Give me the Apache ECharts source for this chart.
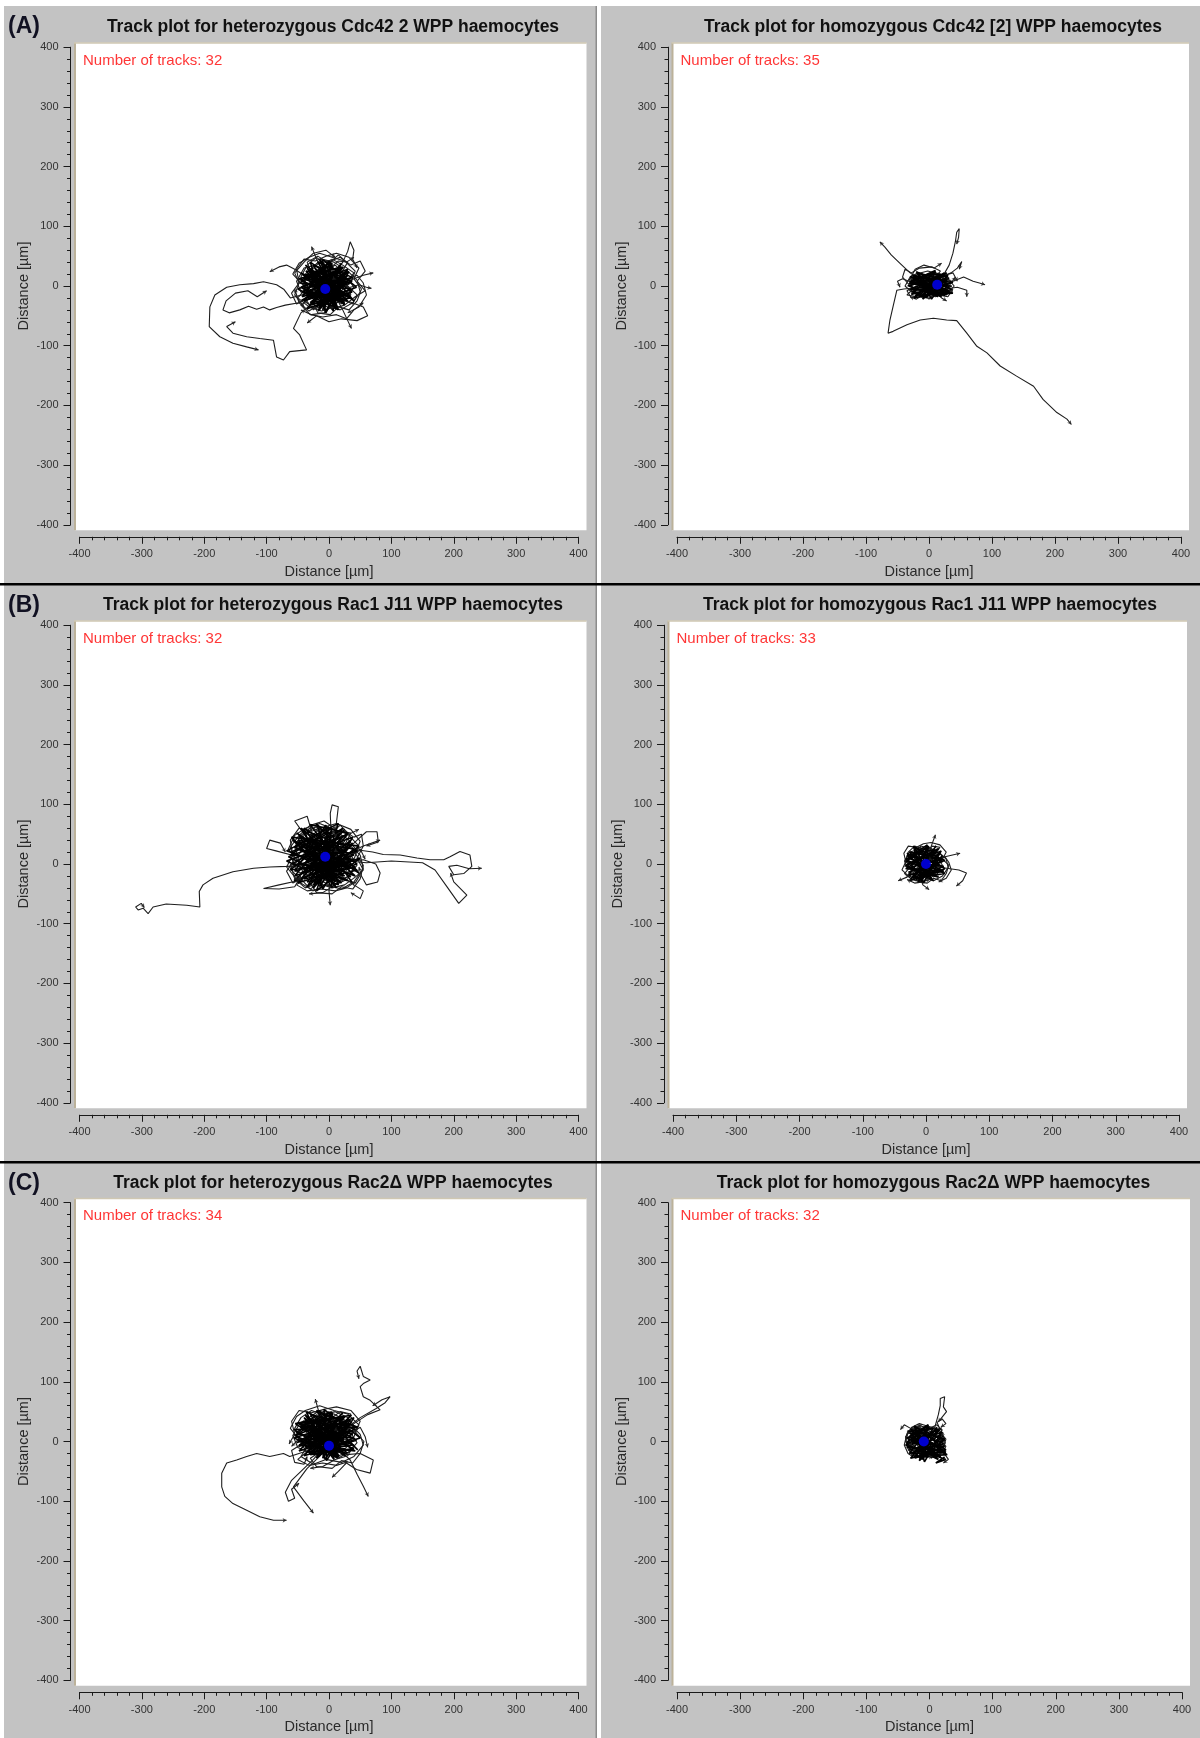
<!DOCTYPE html>
<html><head><meta charset="utf-8">
<script src="https://cdn.jsdelivr.net/npm/echarts@6/dist/echarts.min.js"></script>
<style>html,body{margin:0;padding:0;background:#fff}#c{width:1200px;height:1738px}</style>
</head><body><div id="c"></div>
<script>
// ---------------- DATA ----------------
const rowLetters = ['(A)', '(B)', '(C)'];
const panelTitles = [
  'Track plot for heterozygous Cdc42 2 WPP haemocytes',
  'Track plot for homozygous Cdc42 [2] WPP haemocytes',
  'Track plot for heterozygous Rac1 J11 WPP haemocytes',
  'Track plot for homozygous Rac1 J11 WPP haemocytes',
  'Track plot for heterozygous Rac2\u0394 WPP haemocytes',
  'Track plot for homozygous Rac2\u0394 WPP haemocytes'
];
const trackCounts = [32, 35, 32, 33, 34, 32];
const axisMin = -400, axisMax = 400, axisStep = 100;
const axisTitle = 'Distance [\u00b5m]';
const centres = [[-6, -5], [13, 2], [-6, 12], [0, 0], [0, -7], [-9, 0]];

// A: heterozygous Cdc42 2
const tracksA1 = [
  [[0,0],[-18,-6],[-40,-14],[-62,-20],[-72,-6],[-84,2],[-105,7],[-121,4],[-143,2],[-164,-2],[-183,-15],[-191,-35],[-192,-68],[-175,-85],[-154,-96],[-132,-102],[-113,-107]],
  [[0,0],[-20,-15],[-48,-28],[-70,-32],[-84,-36],[-95,-40],[-105,-35],[-116,-39],[-129,-34],[-143,-40],[-160,-45],[-170,-40],[-165,-25],[-150,-12],[-130,-8],[-115,-18],[-100,-8]],
  [[0,0],[-22,-25],[-45,-45],[-57,-71],[-47,-82],[-36,-107],[-63,-110],[-73,-124],[-84,-119],[-89,-91],[-111,-88],[-132,-85],[-154,-79],[-164,-68],[-150,-60]],
  [[0,0],[-20,10],[-40,18],[-55,28],[-68,35],[-80,32],[-95,24]],
  [[0,0],[10,20],[22,40],[30,58],[34,74],[40,60],[38,45],[45,30]],
  [[0,0],[20,5],[40,12],[55,18],[71,22]],
  [[0,0],[25,-5],[48,2],[60,-2],[68,-4]],
  [[0,0],[12,-20],[22,-40],[30,-58],[36,-71]],
  [[0,0],[-10,25],[-20,45],[-28,66]],
  [[0,0],[30,-25],[55,-35],[62,-50],[45,-58],[20,-55],[0,-60],[-20,-50],[-35,-62]],
  [[0,0],[12,8],[5,22],[-10,30],[-25,18],[-18,2],[-30,-12],[-15,-25],[4,-18],[20,-30],[35,-15],[28,5],[40,22],[22,35],[5,45],[-8,38],[-20,48],[-35,35],[-45,15],[-38,-5],[-50,-20],[-32,-35],[-12,-42],[8,-35]],
  [[0,0],[-8,-12],[10,-20],[25,-8],[15,12],[30,25],[45,10],[50,-10],[38,-28],[18,-40],[-5,-30],[-22,-38],[-40,-25],[-28,-8],[-42,8],[-30,25],[-15,40],[2,30],[15,42],[30,40],[20,22],[5,10]],
  [[0,0],[18,-6],[8,-22],[-12,-15],[-25,-28],[-18,-45],[2,-48],[15,-35],[32,-40],[45,-25],[52,-5],[40,12],[48,30],[32,48],[12,55],[-5,50],[-22,42],[-40,45],[-52,28],[-48,5],[-55,-15],[-40,-35]],
  [[0,0],[-15,8],[-8,25],[10,18],[22,30],[8,40],[-12,45],[-28,30],[-38,20],[-25,5],[-35,-8],[-20,-18],[-5,-10],[12,-25],[28,-18],[40,-2],[30,12],[45,18],[55,5],[60,-15],[48,-35],[30,-45]],
  [[0,0],[5,15],[-12,20],[-20,8],[-10,-8],[-28,-18],[-45,-10],[-52,8],[-40,30],[-22,35],[-5,25],[10,35],[25,20],[18,5],[35,-5],[25,-22],[8,-30],[-8,-45],[-28,-48],[-45,-40]],
  [[0,0],[-20,-5],[-12,15],[8,12],[18,-5],[35,5],[42,25],[25,42],[5,48],[-15,55],[-32,48],[-48,38],[-58,20],[-42,2],[-30,-20],[-45,-32],[-30,-48],[-10,-52],[12,-48],[28,-55],[40,-40],[55,-28]],
  [[0,0],[10,-12],[-5,-22],[-18,-10],[-32,2],[-22,18],[-5,12],[8,28],[-2,40],[18,48],[35,35],[50,42],[58,25],[45,8],[58,-8],[42,-18],[25,-32],[5,-38],[-15,-30],[-32,-42],[-48,-28],[-55,-5]],
  [[0,0],[-6,18],[12,25],[28,12],[20,-10],[2,-15],[-15,-28],[-30,-15],[-40,5],[-28,22],[-35,40],[-18,50],[0,38],[15,52],[28,40],[40,48]],
  [[0,0],[15,10],[30,0],[45,-15],[38,-30],[20,-22],[5,-35],[-10,-25],[-25,-40],[-38,-22],[-52,-30],[-60,-12],[-48,5],[-55,22],[-40,40],[-25,55],[-5,60],[10,48]]
];
const denseA1 = [
  [[0,0],[30,12],[-35,-8],[23,-22],[-40,18],[15,30],[-20,-35],[35,-5],[-47,5],[5,38],[-10,-40],[27,25],[-30,-28],[33,-15],[-45,22],[10,-30],[-25,35],[37,8],[-43,-18],[0,42],[7,-42],[-35,30],[25,-32]],
  [[0,0],[-30,20],[25,-15],[-43,-10],[17,28],[-15,-38],[31,10],[-37,25],[13,-35],[-45,-2],[23,32],[-27,-30],[35,-20],[-40,12],[3,40],[-17,-42],[30,18],[-33,-22],[20,-8],[-23,30]],
  [[0,0],[10,-30],[-25,25],[33,5],[-40,-25],[5,35],[-45,10],[25,-28],[-20,-15],[20,38],[-35,-38],[37,-10],[-30,40],[-5,-45],[30,28],[-50,-5],[15,-40],[-15,45],[40,-25],[-38,35]],
  [[0,0],[-20,10],[12,-14],[-25,-6],[14,16],[-10,-22],[22,4],[-28,14],[6,-24],[-18,20],[18,-10],[-26,-14],[10,22],[-4,-26],[24,12],[-22,-18],[16,-20],[-12,24]],
  [[0,0],[22,18],[-38,-12],[30,-25],[-30,28],[12,-38],[-42,-4],[38,14],[-18,40],[25,-30],[-48,12],[20,32],[-28,-32],[44,-2],[-10,44],[-6,-44],[32,24],[-44,-24],[28,8]]
];

// A: homozygous Cdc42 [2]
const tracksA2 = [
  [[0,0],[-20,-3],[-40,-5],[-51,-7],[-57,-34],[-62,-57],[-65,-79],[-57,-76],[-35,-65],[-14,-57],[7,-54],[28,-57],[44,-58],[60,-79],[76,-101],[92,-112],[113,-134],[139,-151],[166,-168],[181,-190],[203,-212],[219,-223],[226,-232]],
  [[0,0],[-15,12],[-30,22],[-46,38],[-60,52],[-70,65],[-78,74]],
  [[0,0],[15,10],[25,22],[32,35],[38,55],[42,75],[44,90],[48,96],[47,82],[44,70]],
  [[0,0],[20,-2],[38,8],[55,15],[70,8],[80,5],[89,2]],
  [[0,0],[20,15],[35,22],[45,30],[52,41],[48,28]],
  [[0,0],[25,-5],[45,-2],[60,-7],[60,-18]],
  [[0,0],[10,-10],[20,-20],[28,-25]],
  [[0,0],[-10,-15],[-20,-22],[-30,-18]],
  [[0,0],[-25,5],[-42,12],[-50,8],[-46,-2]],
  [[0,0],[10,8],[-5,15],[-18,6],[-10,-8],[5,-12],[20,-5],[28,10],[15,20],[-2,25],[-20,20],[-32,10],[-25,-5],[-35,-15],[-18,-18],[0,-20],[15,-15],[30,-18],[38,-5]],
  [[0,0],[-12,-5],[-22,8],[-10,18],[8,12],[18,25],[5,32],[-15,30],[-28,22],[-38,28],[-42,15],[-30,0],[-20,-12],[-5,-8],[10,-18],[25,-10],[35,5],[42,15]],
  [[0,0],[8,-10],[22,-15],[32,-2],[20,8],[8,2],[-5,8],[-15,-5],[-28,-10],[-38,0],[-30,15],[-18,22],[-5,18],[10,22],[25,18],[38,22],[45,8]],
  [[0,0],[-8,10],[5,20],[20,15],[30,2],[18,-12],[2,-15],[-12,-18],[-25,-8],[-15,5],[-30,12],[-22,28],[-8,35],[8,30],[20,38]],
  [[0,0],[15,3],[10,15],[-5,10],[-12,22],[-25,15],[-20,0],[-35,-8],[-28,-20],[-12,-12],[0,-22],[12,-8],[28,-15],[40,0],[30,12]]
];
const denseA2 = [
  [[0,0],[30,8],[-25,-5],[28,-14],[-28,14],[18,20],[-12,-18],[36,0],[-32,4],[10,24],[-5,-20],[30,16],[-22,-16],[34,-10],[-30,16],[14,-18],[-18,22],[38,6],[-28,-10]],
  [[0,0],[-24,12],[32,-8],[-30,-6],[22,18],[-8,-20],[35,6],[-26,18],[20,-18],[-32,0],[28,22],[-16,-16],[38,-12],[-28,8],[10,26],[-10,-22],[32,14]],
  [[0,0],[15,-16],[-18,16],[30,4],[-28,-14],[10,24],[-30,8],[26,-16],[-14,-8],[24,22],[-24,-20],[36,-6],[-20,24],[4,-22],[30,18],[-34,0]]
];

// B: heterozygous Rac1 J11
const tracksB1 = [
  [[0,0],[-20,-2],[-45,-3],[-68,-4],[-95,-5],[-121,-7],[-154,-13],[-186,-24],[-202,-35],[-208,-46],[-207,-72],[-228,-69],[-261,-67],[-282,-72],[-290,-83],[-298,-74],[-306,-77],[-310,-72],[-301,-66],[-296,-73]],
  [[0,0],[25,10],[50,23],[70,20],[87,16],[114,15],[141,10],[162,7],[184,7],[194,12],[210,21],[226,15],[229,-4],[216,-16],[200,-18],[192,-4],[205,-2],[225,-8],[245,-7]],
  [[0,0],[30,5],[60,2],[100,5],[150,2],[170,-10],[189,-38],[208,-66],[221,-52],[200,-30],[195,-15]],
  [[0,0],[2,30],[3,60],[2,85],[5,99],[15,96],[12,70],[10,45]],
  [[0,0],[-20,25],[-40,50],[-55,72],[-35,80],[-28,55]],
  [[0,0],[-30,10],[-60,15],[-85,22],[-100,26],[-95,40],[-78,35],[-70,20]],
  [[0,0],[-25,-15],[-50,-28],[-80,-35],[-105,-41],[-80,-42],[-55,-38],[-45,-20]],
  [[0,0],[25,20],[45,40],[60,54],[77,54],[79,37],[60,30]],
  [[0,0],[30,5],[55,7],[75,0],[82,-15],[78,-30],[60,-35],[52,-20],[48,-5]],
  [[0,0],[2,-25],[0,-45],[2,-69]],
  [[0,0],[20,-20],[40,-35],[55,-45],[50,-58],[35,-48]],
  [[0,0],[30,18],[55,30],[82,40]],
  [[0,0],[15,12],[5,30],[-15,38],[-30,22],[-20,5],[-38,-8],[-25,-25],[-5,-20],[15,-32],[35,-18],[28,5],[45,22],[30,42],[10,55],[-10,50],[-28,62],[-45,48],[-55,28],[-48,8],[-62,-8],[-45,-28]],
  [[0,0],[-10,-15],[10,-25],[28,-12],[18,15],[35,30],[50,15],[55,-8],[40,-30],[20,-42],[-5,-35],[-25,-45],[-48,-30],[-35,-10],[-52,10],[-38,32],[-20,50],[0,40],[18,55],[35,52],[25,32],[8,20]],
  [[0,0],[20,-8],[8,-28],[-15,-20],[-30,-32],[-20,-48],[5,-50],[20,-38],[38,-42],[50,-25],[55,-2],[42,18],[50,38],[35,58],[12,68],[-8,62],[-28,55],[-48,60],[-62,40],[-58,15],[-68,-5],[-50,-28]],
  [[0,0],[-18,10],[-10,30],[12,22],[25,38],[8,50],[-15,58],[-35,42],[-45,28],[-30,8],[-42,-5],[-25,-18],[-5,-10],[15,-28],[32,-20],[45,-2],[35,15],[50,25],[58,8]],
  [[0,0],[6,18],[-15,25],[-25,10],[-12,-10],[-32,-20],[-52,-12],[-60,10],[-48,35],[-28,42],[-5,32],[12,45],[30,28],[22,8],[40,-5],[30,-25],[10,-35],[-10,-48],[-32,-50]],
  [[0,0],[-25,-5],[-15,18],[10,15],[22,-5],[40,8],[48,30],[30,50],[8,58],[-15,68],[-38,60],[-55,48],[-65,25],[-50,5],[-38,-22],[-52,-35],[-35,-45],[-12,-42],[10,-45],[28,-40],[42,-30]],
  [[0,0],[12,-15],[-5,-28],[-22,-12],[-38,2],[-28,22],[-8,15],[10,32],[-2,48],[20,58],[40,45],[52,50],[55,30],[45,10],[55,-10],[42,-22],[25,-35],[5,-40],[-18,-32],[-38,-40],[-55,-25],[-62,0]],
  [[0,0],[-8,22],[15,30],[32,15],[22,-12],[2,-18],[-18,-32],[-35,-18],[-48,5],[-35,25],[-42,48],[-22,62],[0,48],[18,65],[32,50],[48,58]],
  [[0,0],[18,12],[35,0],[50,-18],[42,-32],[22,-25],[5,-38],[-12,-28],[-30,-42],[-45,-25],[-58,-32],[-68,-12],[-55,8],[-62,28],[-48,48],[-30,65],[-8,72],[12,58]]
];
const denseB1 = [
  [[0,0],[30,25],[-45,0],[25,-20],[-50,35],[15,50],[-30,-30],[40,8],[-62,15],[5,60],[-15,-38],[35,40],[-40,-25],[42,-5],[-58,40],[10,-30],[-35,55],[45,22],[-55,-12],[-5,65],[5,-40],[-48,48],[35,-22]],
  [[0,0],[-40,35],[35,-5],[-60,0],[20,45],[-25,-35],[40,25],[-50,40],[20,-32],[-65,12],[30,50],[-35,-30],[45,-10],[-55,28],[0,62],[-25,-40],[38,35],[-45,-15],[25,5],[-30,50]],
  [[0,0],[10,-30],[-35,42],[40,15],[-55,-20],[5,55],[-60,20],[30,-28],[-30,-8],[25,58],[-50,-32],[45,0],[-40,60],[-10,-42],[38,45],[-68,5],[15,-35],[-20,68],[48,-15],[-52,52]],
  [[0,0],[-28,22],[14,-6],[-35,2],[16,30],[-15,-18],[24,16],[-38,28],[6,-16],[-24,38],[20,0],[-36,-8],[10,38],[-6,-22],[28,26],[-30,-10],[18,-12],[-14,42]],
  [[0,0],[-50,25],[40,5],[-62,-10],[22,60],[-35,-38],[48,30],[-60,45],[12,-40],[-45,60],[42,-20],[-68,22],[15,68],[-20,-45],[50,10],[-56,-28],[30,52],[-30,66],[38,-32]]
];

// B: homozygous Rac1 J11
const tracksB2 = [
  [[0,0],[15,8],[30,12],[42,15],[54,18]],
  [[0,0],[20,-5],[38,-8],[52,-10],[64,-15],[58,-28],[48,-37]],
  [[0,0],[-15,-10],[-30,-22],[-44,-28]],
  [[0,0],[5,20],[10,35],[15,49]],
  [[0,0],[-10,-20],[-5,-35],[5,-43]],
  [[0,0],[8,6],[2,15],[-8,18],[-15,8],[-10,-4],[-20,-10],[-12,-20],[2,-15],[12,-22],[22,-12],[18,4],[28,12],[15,22],[5,28],[-6,25],[-18,30],[-28,20],[-32,6],[-26,-6],[-34,-16],[-22,-26],[-8,-30],[6,-26]],
  [[0,0],[-6,-8],[8,-14],[18,-5],[10,8],[22,18],[32,8],[35,-6],[26,-20],[12,-28],[-4,-22],[-16,-28],[-28,-18],[-20,-5],[-30,6],[-20,18],[-10,28],[2,22],[10,30],[22,28],[14,15],[4,6]],
  [[0,0],[12,-4],[5,-15],[-8,-10],[-18,-20],[-12,-30],[2,-32],[12,-24],[24,-28],[32,-16],[36,-2],[26,8],[32,20],[22,32],[8,36],[-4,34],[-15,28],[-28,30],[-35,18],[-32,4],[-38,-10],[-26,-22]],
  [[0,0],[-10,5],[-5,16],[6,12],[14,20],[5,26],[-8,30],[-18,20],[-25,12],[-16,3],[-24,-5],[-14,-12],[-3,-6],[8,-16],[18,-12],[26,-2],[20,8],[30,12],[36,3],[40,-10],[32,-24],[20,-30]],
  [[0,0],[4,10],[-8,13],[-13,5],[-6,-5],[-18,-12],[-30,-6],[-34,5],[-26,20],[-15,23],[-3,16],[6,23],[16,13],[12,3],[23,-3],[16,-15],[5,-20],[-5,-30],[-18,-32],[-30,-26]]
];
const denseB2 = [
  [[0,0],[24,8],[-26,-6],[20,-18],[-30,14],[12,24],[-16,-26],[28,-4],[-32,4],[4,30],[-8,-30],[22,20],[-22,-22],[28,-12],[-30,18],[8,-24],[-18,28],[30,6],[-28,-14]],
  [[0,0],[-22,16],[22,-12],[-32,-8],[14,24],[-10,-28],[26,8],[-26,20],[12,-28],[-32,-2],[20,26],[-20,-24],[30,-16],[-28,10],[2,32],[-12,-30],[26,14]],
  [[0,0],[8,-24],[-18,20],[26,4],[-28,-20],[4,28],[-32,8],[20,-22],[-14,-12],[16,30],[-26,-28],[30,-8],[-20,30],[-4,-32],[24,22],[-34,-4]]
];

// C: heterozygous Rac2 delta
const tracksC1 = [
  [[0,0],[-20,-10],[-42,-18],[-63,-25],[-73,-20],[-95,-25],[-116,-20],[-132,-25],[-148,-31],[-164,-36],[-172,-53],[-172,-76],[-167,-92],[-154,-104],[-132,-115],[-111,-126],[-89,-132],[-68,-132]],
  [[0,0],[20,15],[40,30],[62,45],[82,53],[66,69],[55,75],[50,92],[55,97],[66,103],[55,109],[50,126],[45,118],[48,105]],
  [[0,0],[25,20],[50,40],[75,55],[90,65],[98,75],[85,70],[70,60]],
  [[0,0],[15,-12],[34,-31],[45,-55],[55,-75],[63,-92]],
  [[0,0],[-8,20],[-15,45],[-22,71]],
  [[0,0],[-15,-25],[-35,-45],[-57,-76],[-40,-100],[-25,-120]],
  [[0,0],[-25,-30],[-45,-50],[-60,-65],[-70,-85],[-65,-100],[-55,-95],[-60,-80],[-48,-70]],
  [[0,0],[28,-22],[50,-20],[71,-31],[66,-53],[44,-47],[28,-36],[15,-50],[5,-60]],
  [[0,0],[-25,5],[-45,-5],[-60,-15],[-55,-35],[-40,-38],[-35,-25]],
  [[0,0],[15,12],[5,30],[-15,38],[-30,22],[-20,5],[-38,-8],[-25,-22],[-5,-18],[15,-28],[35,-15],[28,5],[45,20],[30,40],[10,50],[-10,45],[-28,52],[-45,40],[-55,22],[-48,5],[-60,-8]],
  [[0,0],[-10,-15],[10,-22],[28,-10],[18,15],[35,28],[50,12],[55,-6],[40,-25],[20,-35],[-5,-30],[-25,-38],[-45,-25],[-35,-8],[-52,10],[-38,30],[-20,45],[0,36],[18,50],[35,46],[25,28],[8,18]],
  [[0,0],[20,-8],[8,-25],[-15,-18],[-30,-28],[-20,-42],[5,-45],[20,-32],[38,-36],[50,-20],[56,0],[42,16],[50,34],[35,52],[12,58],[-8,54],[-28,48],[-48,52],[-60,34],[-55,12],[-64,-4]],
  [[0,0],[-18,10],[-10,28],[12,20],[25,36],[8,46],[-15,52],[-35,38],[-45,26],[-30,8],[-42,-4],[-25,-16],[-5,-8],[15,-24],[32,-18],[45,-2],[35,14],[50,24],[58,8],[62,-10]],
  [[0,0],[6,16],[-15,22],[-25,8],[-12,-8],[-32,-18],[-50,-10],[-58,10],[-46,32],[-28,38],[-5,28],[12,40],[30,26],[22,6],[40,-6],[30,-24],[10,-30],[-10,-42],[-30,-45]],
  [[0,0],[-24,-4],[-14,16],[10,14],[22,-4],[40,8],[48,28],[30,46],[8,52],[-15,60],[-38,52],[-52,42],[-62,22],[-48,4],[-36,-18],[-50,-30],[-32,-40],[-10,-36],[12,-40],[30,-34]]
];
const denseC1 = [
  [[0,0],[35,18],[-40,2],[28,-14],[-45,28],[18,40],[-25,-22],[40,6],[-52,12],[5,48],[-10,-28],[30,35],[-35,-18],[38,-6],[-50,32],[10,-24],[-30,46],[42,20],[-48,-8],[0,50],[8,-30],[-40,40],[30,-20]],
  [[0,0],[-35,28],[30,-6],[-50,0],[20,38],[-18,-26],[36,18],[-42,34],[16,-24],[-55,10],[26,42],[-30,-22],[40,-12],[-46,24],[4,50],[-20,-28],[34,30],[-38,-10],[24,4],[-26,42]],
  [[0,0],[12,-22],[-30,36],[38,12],[-48,-16],[6,46],[-52,16],[28,-20],[-24,-4],[22,48],[-40,-24],[44,2],[-36,50],[-6,-30],[34,36],[-56,6],[16,-26],[-16,52],[46,-14]],
  [[0,0],[-22,18],[14,-4],[-30,4],[16,26],[-12,-14],[22,14],[-32,24],[6,-12],[-20,32],[18,2],[-30,-6],[10,32],[-4,-18],[26,22],[-26,-8],[16,-10],[-12,36]],
  [[0,0],[30,30],[-48,-6],[42,-16],[-38,44],[14,-28],[-56,20],[46,24],[-20,52],[26,-24],[-54,30],[36,44],[-32,-20],[50,6],[-8,54],[-4,-32],[40,40],[-52,-2]]
];

// C: homozygous Rac2 delta
const tracksC2 = [
  [[0,0],[6,15],[10,30],[14,45],[17,60],[17,72],[24,75],[22,58],[27,50],[14,33]],
  [[0,0],[10,12],[16,22],[12,32],[20,38],[26,30],[18,24]],
  [[0,0],[-15,12],[-30,22],[-40,28],[-46,20]],
  [[0,0],[15,-12],[26,-24],[30,-30],[22,-36]],
  [[0,0],[-8,6],[-15,15],[-25,10],[-30,-2],[-20,-12],[-10,-5],[0,-15],[10,-22],[20,-15],[25,-2],[15,8],[20,20],[8,22],[-5,18],[-18,25],[-30,20],[-38,8],[-35,-10],[-28,-22],[-12,-28],[5,-25]],
  [[0,0],[6,-8],[-4,-18],[-16,-12],[-28,-16],[-36,-4],[-30,10],[-20,4],[-12,14],[-2,8],[10,12],[18,2],[26,-8],[20,-20],[6,-26],[-8,-22],[-22,-28],[-34,-20],[-40,-6],[-36,12],[-26,24],[-12,28]],
  [[0,0],[-12,-6],[-20,6],[-10,16],[4,10],[14,18],[22,8],[16,-6],[24,-16],[12,-22],[0,-16],[-12,-24],[-24,-14],[-32,2],[-26,18],[-14,26],[0,22],[12,28],[20,18]],
  [[0,0],[-6,12],[-18,16],[-26,4],[-18,-8],[-6,-12],[6,-6],[14,6],[4,16],[-8,20],[-22,22],[-34,14],[-38,0],[-30,-14],[-16,-20],[-2,-24],[12,-18],[22,-10],[26,4],[18,14]],
  [[0,0],[10,6],[4,18],[-8,12],[-20,18],[-30,8],[-24,-6],[-34,-14],[-22,-22],[-8,-16],[4,-24],[16,-16],[24,-4],[14,4],[22,14],[10,22],[-4,26],[-16,30],[-28,24],[-36,12]],
  [[0,0],[-4,-10],[-14,-4],[-22,-14],[-14,-24],[0,-20],[10,-26],[20,-18],[14,-6],[24,4],[16,14],[4,10],[-6,18],[-16,10],[-26,16],[-34,4],[-28,-8]]
];
const denseC2 = [
  [[0,0],[20,-10],[-30,4],[16,-24],[-34,16],[6,22],[-22,-26],[24,-8],[-36,-2],[-4,26],[-12,-30],[20,14],[-28,-20],[26,-18],[-34,18],[4,-28],[-22,24],[24,2],[-32,-14]],
  [[0,0],[-26,16],[22,-16],[-36,-10],[12,20],[-14,-30],[24,4],[-30,20],[14,-30],[-36,-4],[18,22],[-24,-26],[28,-22],[-32,8],[-2,28],[-16,-32],[22,10]],
  [[0,0],[6,-26],[-22,18],[22,-4],[-32,-20],[0,24],[-36,6],[18,-26],[-16,-14],[12,24],[-30,-28],[26,-14],[-24,26],[-8,-34],[20,16],[-38,-6],[26,-30],[10,-36],[24,-26]]
];

const allTracks = [tracksA1, tracksA2, tracksB1, tracksB2, tracksC1, tracksC2];
const allDense = [denseA1, denseA2, denseB1, denseB2, denseC1, denseC2];

// ---------------- LAYOUT (pixels) ----------------
const frames = [
  {left: 79.5, top: 47.2,   width: 499, height: 477.6},
  {left: 677,  top: 47.2,   width: 504, height: 477.6},
  {left: 79.5, top: 625.2,  width: 499, height: 477.6},
  {left: 673,  top: 625.2,  width: 506, height: 477.6},
  {left: 79.5, top: 1202.7, width: 499, height: 477.6},
  {left: 677,  top: 1202.7, width: 505, height: 477.6}
];
const FONT = '"Liberation Sans", Arial, sans-serif';

const chart = echarts.init(document.getElementById('c'), null, {renderer: 'canvas'});

const graphics = [];
graphics.push({type: 'rect', shape: {x: 4, y: 6, width: 1196, height: 1732}, style: {fill: '#c3c3c3'}, z: -10, silent: true});
graphics.push({type: 'rect', shape: {x: 597, y: 6, width: 4, height: 1732}, style: {fill: '#ffffff'}, z: -9, silent: true});
graphics.push({type: 'rect', shape: {x: 595.5, y: 6, width: 1.5, height: 1732}, style: {fill: '#8c8c8c'}, z: -9, silent: true});
[583, 1161].forEach(y => graphics.push({type: 'rect', shape: {x: 0, y: y, width: 1200, height: 2.5}, style: {fill: '#000'}, z: -8, silent: true}));
const letterY = [27, 606, 1184];
rowLetters.forEach((t, i) => graphics.push({type: 'text', x: 8, y: letterY[i], style: {text: t, font: 'bold 23px ' + FONT, fill: '#111122', verticalAlign: 'middle'}, z: 5}));

frames.forEach((f, i) => {
  graphics.push({type: 'rect', shape: {x: f.left - 5, y: f.top - 4.5, width: f.width + 13, height: f.height + 10}, style: {fill: '#fff'}, z: -5, silent: true});
  graphics.push({type: 'rect', shape: {x: f.left - 5.5, y: f.top - 4.5, width: 2, height: f.height + 10}, style: {fill: '#bcb29a'}, z: -4, silent: true});
  graphics.push({type: 'rect', shape: {x: f.left - 5.5, y: f.top - 5, width: f.width + 13.5, height: 1.5}, style: {fill: '#cfc7b2'}, z: -4, silent: true});
  graphics.push({type: 'text', x: f.left + f.width / 2 + 4, y: f.top - 19.8, style: {text: panelTitles[i], font: 'bold 17.5px ' + FONT, fill: '#111', align: 'center', verticalAlign: 'middle'}, z: 5});
  graphics.push({type: 'text', x: f.left + 3.5, y: f.top + 13.5, style: {text: 'Number of tracks: ' + trackCounts[i], font: '15px ' + FONT, fill: '#ff3636', verticalAlign: 'middle'}, z: 5});
});

const grid = frames.map(f => ({left: f.left, top: f.top, width: f.width, height: f.height, containLabel: false, outerBoundsMode: 'none', show: false}));
const axisCommon = {
  type: 'value', min: axisMin, max: axisMax, interval: axisStep,
  axisLine: {show: true, onZero: false, lineStyle: {color: '#1a1a1a', width: 1}},
  axisTick: {show: true, length: 7, lineStyle: {color: '#1a1a1a', width: 1}},
  minorTick: {show: true, splitNumber: 5, length: 3.5, lineStyle: {color: '#1a1a1a', width: 1}},
  splitLine: {show: false}, minorSplitLine: {show: false},
  name: axisTitle, nameLocation: 'middle',
  nameTextStyle: {fontFamily: FONT, fontSize: 14.5, color: '#2a2a2a'}
};
const xAxis = frames.map((f, i) => Object.assign({}, axisCommon, {
  gridIndex: i, position: 'bottom', offset: 12, nameGap: 27.5,
  axisLabel: {fontFamily: FONT, fontSize: 11, color: '#333', margin: 12}
}));
const yAxis = frames.map((f, i) => Object.assign({}, axisCommon, {
  gridIndex: i, position: 'left', offset: 9, nameGap: 39, nameRotate: 90,
  axisLabel: {fontFamily: FONT, fontSize: 11, color: '#333', margin: 12}
}));

const series = [];
function addTrack(tr, p, w, col) {
  series.push({
    type: 'line', xAxisIndex: p, yAxisIndex: p, data: tr,
    showSymbol: false, symbol: 'none', silent: true, animation: false,
    lineStyle: {color: col, width: w}, z: 2
  });
}
allTracks.forEach((tracks, p) => {
  tracks.forEach(tr => addTrack(tr, p, 1.1, '#1e1e1e'));
  allDense[p].forEach(tr => addTrack(tr, p, 1.6, '#000'));
  // tiny arrow heads at the end of each track, pointing along the last step
  const ends = tracks.map(tr => {
    const a = tr[tr.length - 2], b = tr[tr.length - 1];
    const ang = Math.atan2(b[1] - a[1], b[0] - a[0]) * 180 / Math.PI;
    return {value: b, symbolRotate: ang - 90};
  });
  series.push({
    type: 'scatter', xAxisIndex: p, yAxisIndex: p, data: ends,
    symbol: 'arrow', symbolSize: [3.5, 4], itemStyle: {color: '#222'},
    silent: true, animation: false, z: 3
  });
  series.push({
    type: 'scatter', xAxisIndex: p, yAxisIndex: p, data: [centres[p]],
    symbol: 'circle', symbolSize: 10, itemStyle: {color: '#0000ff'},
    silent: true, animation: false, z: 4
  });
});

chart.setOption({
  animation: false,
  backgroundColor: '#ffffff',
  grid: grid, xAxis: xAxis, yAxis: yAxis, series: series,
  graphic: {elements: graphics}
});
</script>
</body></html>
